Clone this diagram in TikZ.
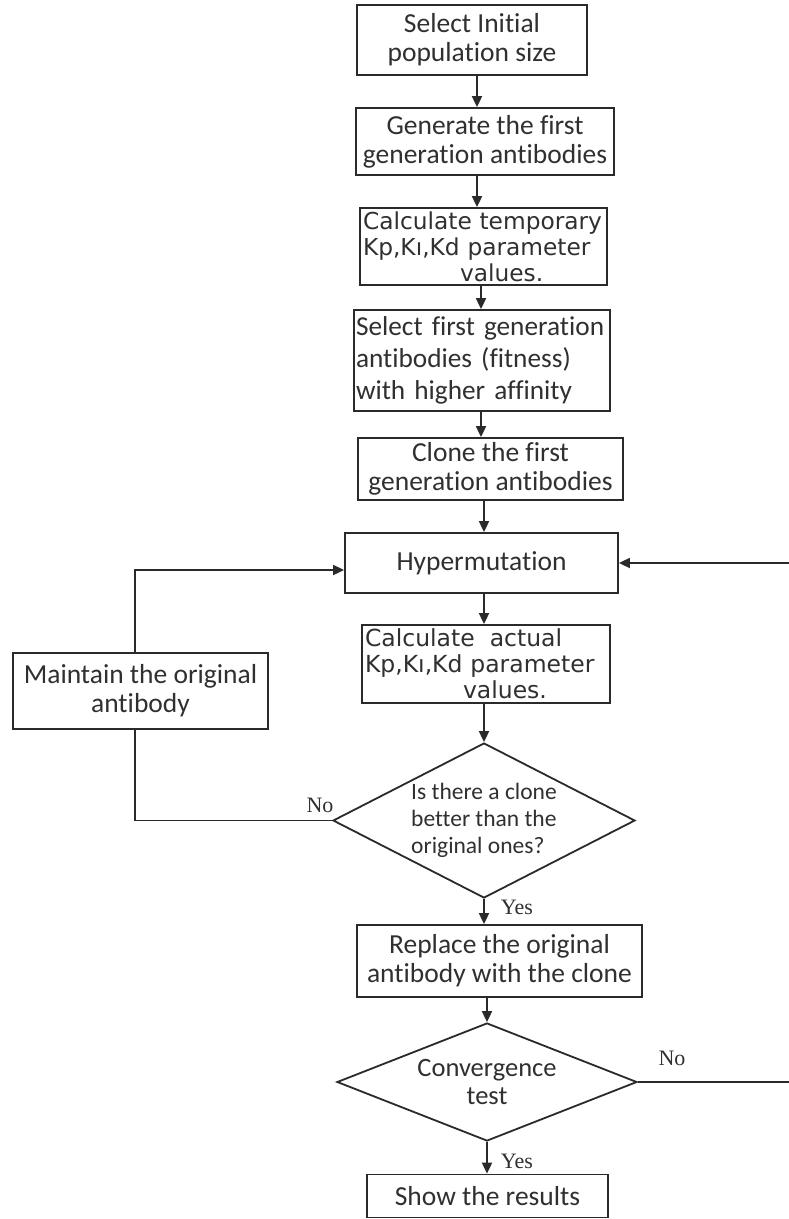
\documentclass[tikz,border=0pt]{standalone}
\usepackage{fontspec}
\setmainfont{Carlito}[Ligatures={NoCommon,NoContextual}]
\newfontfamily\dvs{DejaVu Sans}
\newfontfamily\lsr{Liberation Serif}
\usetikzlibrary{arrows.meta,shapes.geometric}
\definecolor{ink}{HTML}{2A2A2A}
\definecolor{txt}{HTML}{303030}
\begin{document}
\begin{tikzpicture}[x=1pt,y=-1pt,
 box/.style={draw=ink, line width=1.8pt, rectangle, inner sep=2pt, text=txt, font=\fontsize{27.5}{29}\selectfont, align=center},
 calcbox/.style={box, font=\dvs\fontsize{23.3}{26}\selectfont, align=left, inner xsep=3pt},
 dia/.style={draw=ink, line width=1.8pt, diamond, inner sep=0pt, text=txt},
 arr/.style={draw=ink, line width=1.8pt, -{Triangle[length=11pt,width=10pt]}},
 conn/.style={draw=ink, line width=1.8pt},
 lab/.style={font=\lsr\fontsize{22}{24}\selectfont, text=txt, inner sep=0pt}]
\useasboundingbox[fill=white] (0,0) rectangle (788,1219);

\node[box, minimum width=230, minimum height=70] (b1) at (472,40) {Select Initial\\population size};
\node[box, minimum width=258, minimum height=67] (b2) at (485,141.5) {Generate the first\\generation antibodies};
\node[calcbox, text width=241, minimum height=77] (b3) at (483.5,246.5) {Calculate temporary\\Kp,Kı,Kd parameter\\\hspace*{97pt}values.};
\node[box, align=left, text width=252, inner xsep=2pt, minimum height=101, font=\fontsize{27.3}{32}\selectfont] (b4) at (482,360.5) {Select first generation\\antibodies (fitness)\\with higher affinity};
\node[box, minimum width=265, minimum height=62] (b5) at (490.5,469) {Clone the first\\generation antibodies};
\node[box, minimum width=273, minimum height=60] (hyp) at (481.5,563) {Hypermutation};
\node[calcbox, text width=242, minimum height=78, font=\dvs\fontsize{23.5}{26}\selectfont] (calc) at (486,664) {Calculate\hspace{15pt}actual\\Kp,Kı,Kd parameter\\\hspace*{98pt}values.};
\node[dia, shape aspect=2, minimum width=302, minimum height=155, font=\fontsize{23.5}{27}\selectfont, align=left] (d1) at (484,820.5) {Is there a clone\\better than the\\original ones?};
\node[box, minimum width=285, minimum height=72] (rep) at (499.5,961) {Replace the original\\antibody with the clone};
\node[dia, shape aspect=2.54, minimum width=300, minimum height=118, font=\fontsize{26.5}{28}\selectfont, align=center] (d2) at (487,1082) {Convergence\\test};
\node[box, minimum width=241, minimum height=43] (show) at (487.5,1196) {Show the results};
\node[box, minimum width=255, minimum height=76] (mnt) at (140.5,691) {Maintain the original\\antibody};

\coordinate (cA) at (477,0);
\coordinate (cB) at (481,0);
\coordinate (cC) at (484,0);
\coordinate (cD) at (487,0);
\coordinate (cL) at (135,0);
\coordinate (rx) at (792,0);

\draw[arr] (b1.south -| cA) -- (b2.north -| cA);
\draw[arr] (b2.south -| cA) -- (b3.north -| cA);
\draw[arr] (b3.south -| cB) -- (b4.north -| cB);
\draw[arr] (b4.south -| cB) -- (b5.north -| cB);
\draw[arr] (b5.south -| cC) -- (hyp.north -| cC);
\draw[arr] (hyp.south -| cC) -- (calc.north -| cC);
\draw[arr] (calc.south -| cC) -- (d1.north);
\draw[arr] (d1.south) -- (rep.north -| d1.south);
\draw[arr] (rep.south -| cD) -- (d2.north);
\draw[arr] (d2.south) -- (show.north -| d2.south);

\draw[conn] (d1.west) -| (mnt.south -| cL);
\draw[arr] (mnt.north -| cL) |- ([yshift=-7pt]hyp.west);
\draw[arr] (d2.east) -- (d2.east -| rx) |- (hyp.east);

\node[lab] (no1) at (320,805) {No};
\node[lab] (yes1) at (517,907) {Yes};
\node[lab] (no2) at (672,1058) {No};
\node[lab] (yes2) at (517,1161) {Yes};
\end{tikzpicture}
\end{document}
